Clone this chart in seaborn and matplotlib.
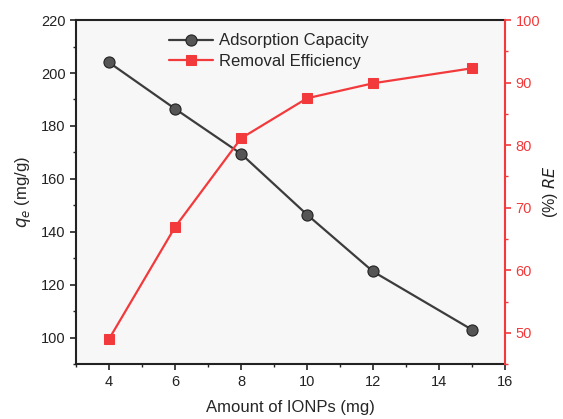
import matplotlib
matplotlib.use("Agg")
import matplotlib.pyplot as plt
import seaborn as sns
import pandas as pd
from matplotlib.ticker import MultipleLocator

amount = [4, 6, 8, 10, 12, 15]
qe = [204.0, 186.5, 169.5, 146.5, 125.0, 103.0]
re = [49.0, 66.9, 81.1, 87.5, 89.9, 92.3]

df = pd.DataFrame({"amount": amount, "qe": qe, "re": re})

sns.set_style("ticks")
plt.rcParams['font.family'] = ['Arial', 'Liberation Sans', 'DejaVu Sans']

fig = plt.figure(figsize=(5.63, 4.19), dpi=100)
ax = fig.add_axes([0.135, 0.131, 0.762, 0.821])
ax.set_facecolor('#f7f7f7')
ax2 = ax.twinx()

black = '#3c3c3c'
red = '#f23a3c'

sns.lineplot(data=df, x="amount", y="qe", ax=ax, color=black, marker='o',
             markersize=8, markerfacecolor='#555555', markeredgecolor='#222222',
             markeredgewidth=0.8, linewidth=1.6, label="Adsorption Capacity", legend=False)
sns.lineplot(data=df, x="amount", y="re", ax=ax2, color=red, marker='s',
             markersize=7.5, markerfacecolor=red, markeredgecolor=red,
             linewidth=1.6, label="Removal Efficiency", legend=False)

ax.set_xlim(3, 16)
ax.set_ylim(90, 220)
ax2.set_ylim(45, 100)

ax.xaxis.set_major_locator(MultipleLocator(2))
ax.xaxis.set_minor_locator(MultipleLocator(1))
ax.yaxis.set_major_locator(MultipleLocator(20))
ax.yaxis.set_minor_locator(MultipleLocator(10))
ax2.yaxis.set_major_locator(MultipleLocator(10))
ax2.yaxis.set_minor_locator(MultipleLocator(5))
ax.set_xticks([4, 6, 8, 10, 12, 14, 16])

for s in ['left', 'bottom', 'top']:
    ax.spines[s].set_linewidth(1.5)
    ax.spines[s].set_color('#222222')
ax2.spines['top'].set_visible(False)
ax2.spines['left'].set_visible(False)
ax2.spines['bottom'].set_visible(False)
ax2.spines['right'].set_color(red)
ax2.spines['right'].set_linewidth(1.5)
ax.spines['right'].set_visible(False)

ax.tick_params(axis='both', which='major', direction='out', length=4, width=1.2,
               labelsize=10.5, colors='#222222')
ax.tick_params(axis='both', which='minor', direction='out', length=2.5, width=1.0, colors='#222222')
ax2.tick_params(axis='y', which='major', direction='out', length=4, width=1.2,
                labelsize=10.5, colors=red, labelcolor=red)
ax2.tick_params(axis='y', which='minor', direction='out', length=2.5, width=1.0, colors=red)

ax.set_xlabel("Amount of IONPs (mg)", fontsize=12, labelpad=8)
ax.set_ylabel(r"$q_e$ (mg/g)", fontsize=12, labelpad=6)
ax2.set_ylabel(r"(%) $RE$", fontsize=11.5, labelpad=1, color='#222222')

h1, l1 = ax.get_legend_handles_labels()
h2, l2 = ax2.get_legend_handles_labels()
leg = ax2.legend(h1 + h2, l1 + l2, loc='upper left', bbox_to_anchor=(0.19, 0.995),
                 frameon=False, fontsize=12, handlelength=2.6, borderaxespad=0.3,
                 labelspacing=0.35, handletextpad=0.4)

fig.savefig("out.png", dpi=100)
